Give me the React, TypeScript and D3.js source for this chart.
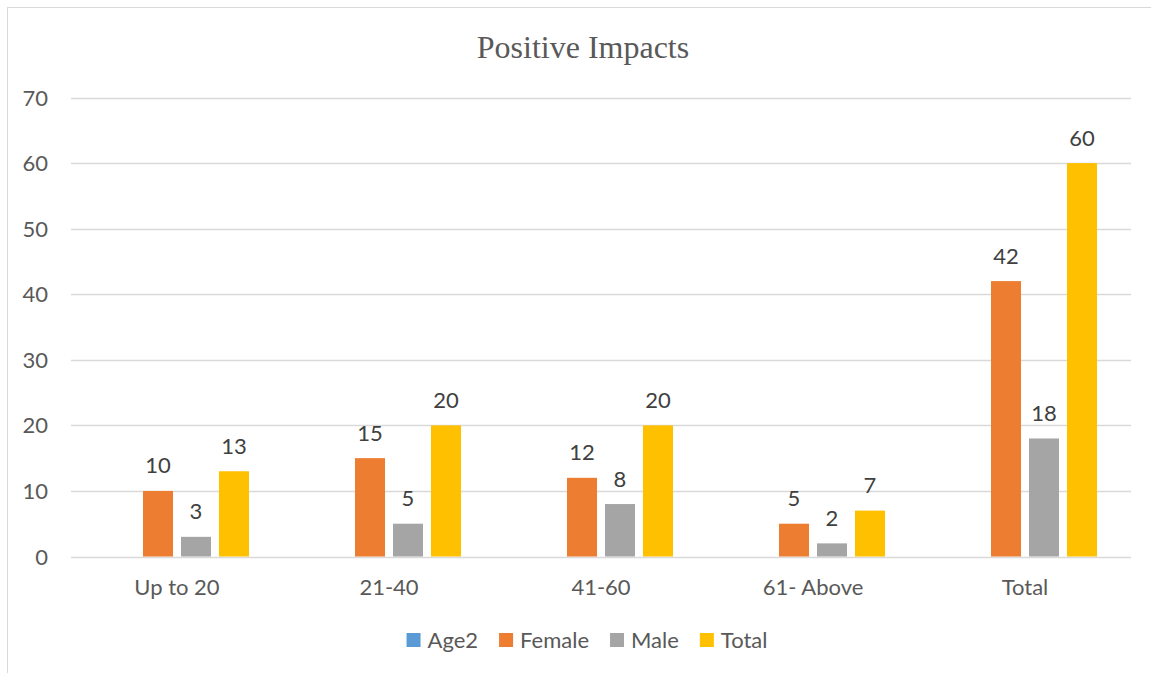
import { useEffect, useRef } from "react";
import * as d3 from "d3";

const categories = ["Up to 20", "21-40", "41-60", "61- Above", "Total"];
const seriesNames = ["Age2", "Female", "Male", "Total"];
const seriesColors = ["#5B9BD5", "#ED7D31", "#A5A5A5", "#FFC000"];
// Age2 has no values in the source chart
const age2Values: (number | null)[] = [null, null, null, null, null];
const femaleValues = [10, 15, 12, 5, 42];
const maleValues = [3, 5, 8, 2, 18];
const totalValues = [13, 20, 20, 7, 60];
const yTicks = [0, 10, 20, 30, 40, 50, 60, 70];

const WIDTH = 1151;
const HEIGHT = 673;
const FONT = "Lato, 'Open Sans', sans-serif";

export default function App() {
  const ref = useRef<SVGSVGElement>(null);

  useEffect(() => {
    const svg = d3.select(ref.current);
    svg.selectAll("*").remove();

    const plot = { left: 71, right: 1131, top: 97.5, bottom: 556.5 };
    const allSeries = [age2Values, femaleValues, maleValues, totalValues];

    // outer frame (only top/left edges visible in the crop)
    svg.append("rect")
      .attr("x", 7.5).attr("y", 7.5)
      .attr("width", WIDTH + 20).attr("height", HEIGHT + 20)
      .attr("fill", "white")
      .attr("stroke", "#d9d9d9")
      .attr("stroke-width", 1);

    const x0 = d3.scaleBand<string>().domain(categories).range([plot.left, plot.right]).padding(0);
    const x1 = d3.scaleBand<string>()
      .domain(seriesNames)
      .range([0, x0.bandwidth()])
      .paddingInner(8 / 38)
      .paddingOuter(0.895);
    const y = d3.scaleLinear().domain([0, 70]).range([plot.bottom, plot.top]);

    // title
    svg.append("text")
      .attr("x", 583)
      .attr("y", 58)
      .attr("text-anchor", "middle")
      .attr("font-family", "'Liberation Serif', 'Times New Roman', serif")
      .attr("font-size", 32)
      .attr("fill", "#595959")
      .text("Positive Impacts");

    // gridlines
    svg.append("g")
      .selectAll("line")
      .data(yTicks)
      .join("line")
      .attr("x1", plot.left).attr("x2", plot.right)
      .attr("y1", d => Math.round(y(d)) + 0.5)
      .attr("y2", d => Math.round(y(d)) + 0.5)
      .attr("stroke", "#d9d9d9")
      .attr("stroke-width", 1.3);

    // y tick labels
    svg.append("g")
      .selectAll("text")
      .data(yTicks)
      .join("text")
      .attr("x", 48)
      .attr("y", d => y(d) + 8)
      .attr("text-anchor", "end")
      .attr("font-family", FONT)
      .attr("font-size", 22)
      .attr("fill", "#595959")
      .text(d => d);

    // bars + labels
    allSeries.forEach((vals, si) => {
      const g = svg.append("g");
      const rows = categories
        .map((c, i) => ({ c, v: vals[i] }))
        .filter(d => d.v !== null) as { c: string; v: number }[];
      g.selectAll("rect")
        .data(rows)
        .join("rect")
        .attr("x", d => x0(d.c)! + x1(seriesNames[si])!)
        .attr("y", d => y(d.v))
        .attr("width", x1.bandwidth())
        .attr("height", d => y(0) - y(d.v))
        .attr("fill", seriesColors[si]);
      g.selectAll("text")
        .data(rows)
        .join("text")
        .attr("x", d => x0(d.c)! + x1(seriesNames[si])! + x1.bandwidth() / 2)
        .attr("y", d => y(d.v) - 17.5)
        .attr("text-anchor", "middle")
        .attr("font-family", FONT)
        .attr("font-size", 22)
        .attr("fill", "#404040")
        .text(d => d.v);
    });

    // category labels
    svg.append("g")
      .selectAll("text")
      .data(categories)
      .join("text")
      .attr("x", d => x0(d)! + x0.bandwidth() / 2)
      .attr("y", 595)
      .attr("text-anchor", "middle")
      .attr("font-family", FONT)
      .attr("font-size", 22)
      .attr("fill", "#595959")
      .text(d => d);

    // legend
    const legend = svg.append("g");
    const items = seriesNames.map((name, i) => {
      const item = legend.append("g");
      item.append("rect")
        .attr("x", 0).attr("y", 633)
        .attr("width", 14).attr("height", 14)
        .attr("fill", seriesColors[i]);
      const t = item.append("text")
        .attr("x", 21).attr("y", 648)
        .attr("font-family", FONT)
        .attr("font-size", 22)
        .attr("fill", "#595959")
        .text(name);
      const w = 21 + (t.node() as SVGTextElement).getComputedTextLength();
      return { item, w };
    });
    const gap = 21;
    const totalW = d3.sum(items, d => d.w) + gap * (items.length - 1);
    let cx = 587 - totalW / 2;
    items.forEach(({ item, w }) => {
      item.attr("transform", `translate(${cx},0)`);
      cx += w + gap;
    });
  }, []);

  return (
    <svg
      ref={ref}
      width={WIDTH}
      height={HEIGHT}
      style={{ position: "absolute", left: 0, top: 0, background: "white" }}
    />
  );
}
